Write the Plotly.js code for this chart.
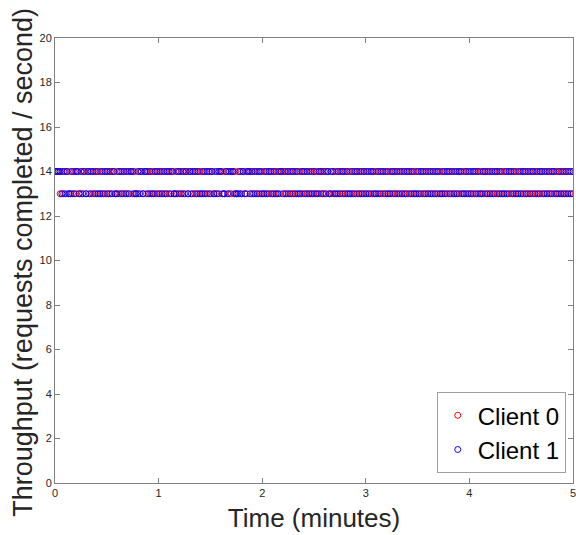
<!DOCTYPE html>
<html>
<head>
<meta charset="utf-8">
<script src="https://cdn.plot.ly/plotly-3.0.1.min.js"></script>
<style>html,body{margin:0;padding:0;background:#fff;}#chart{width:576px;height:535px;}</style>
</head>
<body>
<div id="chart"></div>
<script>
// Requests completed per second, sampled once per second (x in minutes)
const seriesNames = ["Client 0", "Client 1"];
const sampleIntervalMinutes = 1 / 60;
const xTitle = "Time (minutes)";
const yTitle = "Throughput (requests completed / second)";

const client0 = [
  14,14,14,13,14,13,14,14,13,14,13,14,13,14,13,13,14,14,13,14,
  14,13,13,14,13,14,14,13,14,13,13,14,13,14,14,13,14,13,13,14,
  13,14,13,14,14,13,14,13,13,14,14,13,14,13,14,13,14,14,13,13,
  14,13,14,13,14,13,13,14,14,13,14,13,13,14,13,14,14,13,14,14,
  13,13,14,13,14,14,13,14,13,13,14,14,13,13,14,13,14,14,13,14,
  14,13,13,14,14,13,14,13,14,14,13,13,14,14,13,14,13,14,13,13,
  14,14,13,14,13,13,14,13,14,14,13,14,14,13,14,13,14,13,13,14,
  13,14,14,13,13,14,13,14,13,14,13,14,14,13,13,14,13,14,14,13,
  13,13,14,14,13,14,13,13,14,13,14,14,13,14,13,13,14,13,14,13,
  14,13,14,13,13,14,14,13,14,13,13,14,13,14,14,13,13,14,13,14,
  13,14,13,14,13,13,14,13,14,14,13,14,13,13,14,13,14,13,14,13,
  14,13,13,14,14,13,14,13,13,14,13,14,13,14,13,13,14,14,13,14,
  13,14,13,13,14,13,14,14,13,13,14,13,14,13,14,13,13,14,13,14,
  14,13,14,13,13,14,13,14,14,13,14,13,13,14,13,14,13,13,14,13,
  14,13,13,14,13,14,13,14,13,13,14,14,13,14,13,14,13,14,13,14,
  13
];

const client1 = [
  14,14,14,14,13,14,13,14,13,13,14,13,14,14,13,14,13,14,13,14,
  13,14,14,13,14,13,13,14,13,14,14,13,14,13,14,13,13,14,14,13,
  14,13,14,13,14,14,13,13,14,13,14,13,14,14,13,14,13,13,14,14,
  13,14,13,14,13,14,14,13,14,13,13,14,14,13,14,13,14,13,14,13,
  14,14,13,14,13,13,14,13,14,14,13,14,13,14,13,14,14,13,13,14,
  13,14,14,14,13,13,13,14,13,14,13,14,14,13,14,13,14,13,14,14,
  13,13,14,13,14,14,13,14,13,13,14,14,13,14,13,14,13,14,14,13,
  14,13,13,14,14,13,14,13,14,13,14,13,13,14,14,13,14,13,14,13,
  14,14,13,13,14,13,14,14,13,14,13,13,14,13,14,14,13,14,13,14,
  13,14,13,14,14,13,13,14,13,14,14,13,14,13,13,14,14,13,14,13,
  14,13,14,13,14,14,13,14,13,13,14,13,14,14,13,14,13,14,13,14,
  13,14,14,13,13,14,13,14,14,13,14,13,14,13,14,14,13,13,14,13,
  14,13,14,14,13,14,13,13,14,14,13,14,13,14,13,14,14,13,14,13,
  13,14,13,14,14,13,14,13,13,14,13,14,14,13,14,13,14,14,13,14,
  13,14,14,13,14,13,14,13,14,14,13,13,14,13,14,13,14,13,14,13,
  14
];

const seriesColors = ["#ff0000", "#0000ff"];
const xTickVals = [0, 1, 2, 3, 4, 5];
const yTickVals = [0, 2, 4, 6, 8, 10, 12, 14, 16, 18, 20];

const timeOf = arr => arr.map((_, i) => i * sampleIntervalMinutes);

const traces = [client0, client1].map((vals, k) => ({
  type: "scatter",
  mode: "markers",
  name: seriesNames[k],
  x: timeOf(vals),
  y: vals,
  marker: {symbol: "circle-open", size: 6, color: seriesColors[k], line: {width: 1, color: seriesColors[k]}}
}));

const fontFam = "Liberation Sans, Arial, Helvetica, sans-serif";

const axisCommon = {
  showgrid: false, zeroline: false, showline: true, mirror: "ticks",
  linecolor: "#808080", linewidth: 1,
  ticks: "inside", ticklen: 5, tickcolor: "#808080", tickwidth: 1,
  ticklabeloverflow: "allow",
  tickfont: {family: fontFam, size: 11, color: "#262626"}
};

const layout = {
  width: 576, height: 535,
  margin: {l: 55, r: 3, t: 38, b: 52},
  paper_bgcolor: "#ffffff", plot_bgcolor: "#ffffff",
  showlegend: true,
  xaxis: Object.assign({}, axisCommon, {
    range: [0, 5], tickvals: xTickVals, ticktext: xTickVals.map(String),
    title: {text: xTitle, font: {family: fontFam, size: 26, color: "#262626"}, standoff: 10}
  }),
  yaxis: Object.assign({}, axisCommon, {
    range: [0, 20], tickvals: yTickVals, ticktext: yTickVals.map(String)
  }),
  annotations: [{
    text: yTitle, xref: "paper", yref: "paper", x: -0.062, y: 0.497,
    xanchor: "center", yanchor: "middle", textangle: -90, showarrow: false,
    font: {family: fontFam, size: 27, color: "#262626"}
  }],
  legend: {
    x: 0.986, y: 0.022, xanchor: "right", yanchor: "bottom",
    bgcolor: "#ffffff", bordercolor: "#a0a0a0", borderwidth: 1,
    font: {family: fontFam, size: 24, color: "#000000"},
    itemsizing: "trace", tracegroupgap: 0
  }
};

Plotly.newPlot("chart", traces, layout, {displayModeBar: false, staticPlot: true});
</script>
</body>
</html>
